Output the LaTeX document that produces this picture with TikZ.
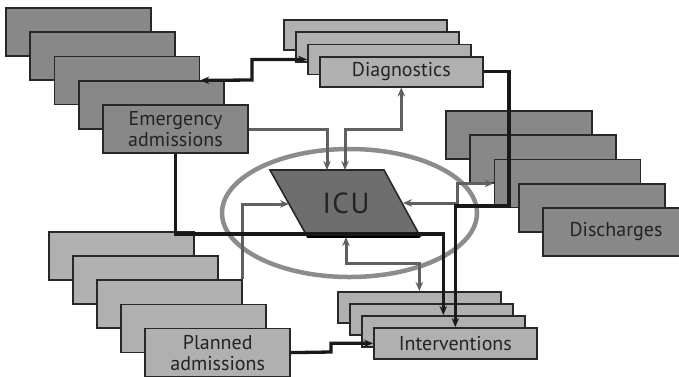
\documentclass[tikz,border=0pt]{standalone}
\usepackage{fontspec}
\setmainfont{PT Sans}
\usepackage{tikz}
\usetikzlibrary{arrows.meta}
\definecolor{boxdark}{RGB}{136,136,136}
\definecolor{boxlight}{RGB}{176,176,176}
\definecolor{icufill}{RGB}{110,110,110}
\definecolor{linegray}{RGB}{96,96,96}
\definecolor{ringgray}{RGB}{140,140,140}
\definecolor{edge}{RGB}{40,40,40}
\definecolor{txt}{RGB}{35,35,35}

\begin{document}
\begin{tikzpicture}[x=1pt,y=-1pt,>={Stealth[length=9pt,width=7.5pt]},
  font=\fontsize{20}{21}\selectfont,
  darkbox/.style={draw=edge,line width=1.6pt,fill=boxdark,text=txt,anchor=north west,
    minimum width=145pt,minimum height=48pt,inner sep=0pt,align=center},
  lightbox/.style={darkbox,fill=boxlight},
  flatbox/.style={lightbox,minimum width=163pt,minimum height=30pt},
  garrow/.style={->,draw=linegray,line width=3pt},
  barrow/.style={->,draw=black!90,line width=3.3pt}]

  \useasboundingbox (0,0) rectangle (679,376);

  % stacks
  \foreach \i in {1,...,5}{
    \ifnum\i=5
      \node[darkbox] (em\i) at ({5+24.3*(\i-1)},{7+24.3*(\i-1)}) {Emergency\\admissions};
      \node[lightbox] (pl\i) at ({48+24.1*(\i-1)},{231+24.2*(\i-1)}) {Planned\\admissions};
      \node[darkbox,minimum width=146pt] (dc\i) at ({445+24.3*(\i-1)},{110+24.3*(\i-1)}) {Discharges};
    \else
      \node[darkbox] (em\i) at ({5+24.3*(\i-1)},{7+24.3*(\i-1)}) {};
      \node[lightbox] (pl\i) at ({48+24.1*(\i-1)},{231+24.2*(\i-1)}) {};
      \node[darkbox,minimum width=146pt] (dc\i) at ({445+24.3*(\i-1)},{110+24.3*(\i-1)}) {};
    \fi
  }
  \foreach \i in {1,...,4}{
    \ifnum\i=4
      \node[flatbox] (dg\i) at ({283+12*(\i-1)},{19+12.3*(\i-1)}) {Diagnostics};
      \node[flatbox,minimum height=31pt] (iv\i) at ({337+12*(\i-1)},{291+12*(\i-1)}) {Interventions};
    \else
      \node[flatbox] (dg\i) at ({283+12*(\i-1)},{19+12.3*(\i-1)}) {};
      \node[flatbox,minimum height=31pt] (iv\i) at ({337+12*(\i-1)},{291+12*(\i-1)}) {};
    \fi
  }

  % ICU
  \draw[ringgray,line width=4.5pt] (349.5,213) ellipse [x radius=127.5, y radius=64];
  \coordinate (icuNW) at (270,170);
  \coordinate (icuNE) at (384,170);
  \coordinate (icuSE) at (420,236);
  \coordinate (icuSW) at (307,236);
  \draw[fill=icufill,draw=edge,line width=1.6pt] (icuNW) -- (icuNE) -- (icuSE) -- (icuSW) -- cycle;
  \draw[black,line width=3.5pt] (icuSW) -- (icuSE);
  \node[text=txt,font=\fontsize{29}{29}\selectfont\addfontfeatures{LetterSpace=5}] (icu) at (346,203) {ICU};
  \coordinate (icuin1) at (327,170);
  \coordinate (icuin2) at (345,170);
  \coordinate (icuin3) at (289,204);
  \coordinate (icuin4) at (403,203);
  \coordinate (icuin5) at (346,237);

  % connectors
  \draw[garrow] (em5.east) -| (icuin1);
  \draw[garrow,<->] (icuin2) -- (345,129) -| (dg4.south);
  \draw[garrow,<->] (icuin4) -- (457,203) |- (dc3.west);
  \draw[garrow] (pl3.north east) |- (icuin3);
  \draw[garrow,<->] (icuin5) -- (346,263) -| (iv1.north);
  \draw[barrow,<->] (em3.east) -- (252,80) |- (dg3.west);
  \draw[barrow] (dg4.east) -| (509,206) -| (iv4.north);
  \draw[barrow] (em5.south) |- (400,234) -| (iv3.north);
  \draw[barrow] (pl5.east) -- (331,352) |- (iv4.west);

\end{tikzpicture}
\end{document}
